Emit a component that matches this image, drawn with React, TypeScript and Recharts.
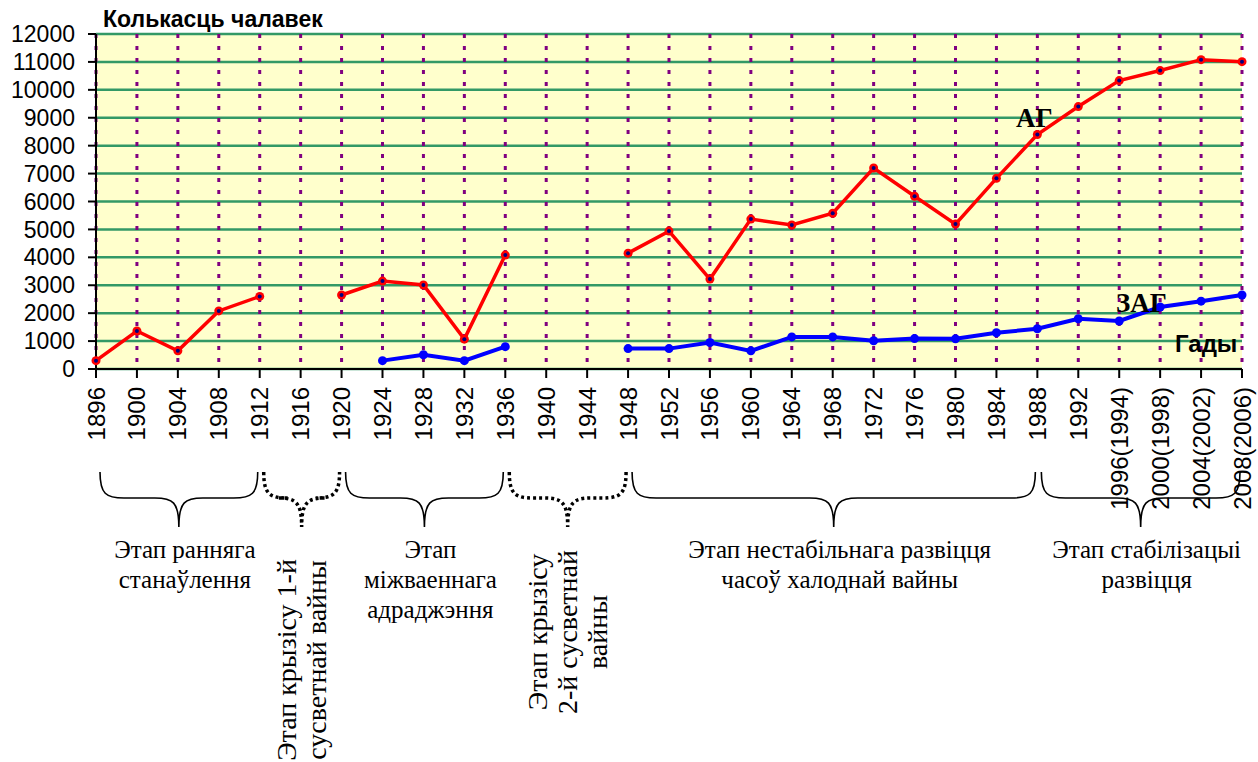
import React from 'react';
import { LineChart, Line, XAxis, YAxis, CartesianGrid } from 'recharts';

const YEARS = [
  '1896', '1900', '1904', '1908', '1912', '1916', '1920', '1924', '1928', '1932',
  '1936', '1940', '1944', '1948', '1952', '1956', '1960', '1964', '1968', '1972',
  '1976', '1980', '1984', '1988', '1992', '1996(1994)', '2000(1998)', '2004(2002)', '2008(2006)',
];

// Летнія гульні (АГ)
const AG = [
  300, 1360, 650, 2080, 2600, null, 2650, 3150, 3010, 1070,
  4080, null, null, 4150, 4940, 3220, 5370, 5160, 5580, 7200,
  6190, 5190, 6830, 8400, 9400, 10330, 10690, 11080, 11010,
];

// Зімовыя гульні (ЗАГ)
const ZAG = [
  null, null, null, null, null, null, null, 300, 510, 300,
  800, null, null, 730, 730, 950, 650, 1150, 1150, 1010,
  1090, 1080, 1300, 1440, 1800, 1720, 2220, 2430, 2650,
];

const Y_TICKS = [0, 1000, 2000, 3000, 4000, 5000, 6000, 7000, 8000, 9000, 10000, 11000, 12000];

const STAGE_FROM = [0, 4, 6, 10, 13, 23];
const STAGE_TO = [4, 6, 10, 13, 23, 28];
const STAGE_DOTTED = [false, true, false, true, false, false];
const STAGE_VERTICAL = [false, true, false, true, false, false];
const STAGE_LINES = [
  ['Этап ранняга', 'станаўлення'],
  ['Этап крызісу 1-й', 'сусветнай вайны'],
  ['Этап', 'міжваеннага', 'адраджэння'],
  ['Этап крызісу', '2-й сусветнай', 'вайны'],
  ['Этап нестабільнага развіцця', 'часоў халоднай вайны'],
  ['Этап стабілізацыі', 'развіцця'],
];

const W = 1258;
const H = 762;
const PLOT_LEFT = 96;
const PLOT_RIGHT = 1242;
const PLOT_TOP = 34;
const PLOT_BOTTOM = 369;

const data = YEARS.map((year, i) => ({ year, ag: AG[i], zag: ZAG[i] }));

const SANS = '"Liberation Sans", Arial, sans-serif';
const SERIF = '"Liberation Serif", "Times New Roman", serif';

// same point scale as the category axis
const xOf = (i: number) => PLOT_LEFT + (i * (PLOT_RIGHT - PLOT_LEFT)) / (YEARS.length - 1);

function XTick({ x, y, payload }: any) {
  return (
    <text
      x={x}
      y={y}
      transform={`rotate(-90 ${x} ${y})`}
      textAnchor="end"
      dominantBaseline="central"
      style={{ fontFamily: SANS, fontSize: 24 }}
      fill="#000"
    >
      {payload.value}
    </text>
  );
}

function RedDot({ cx, cy, value }: any) {
  if (value == null || cx == null) return null;
  return (
    <g>
      <circle cx={cx} cy={cy} r={4.5} fill="#ff0000" />
      <circle cx={cx} cy={cy} r={2} fill="#000080" />
    </g>
  );
}

function bracePath(x0: number, x1: number) {
  const top = 472;
  const mid = 498;
  const bot = 527;
  const xc = (x0 + x1) / 2;
  const r = 24;
  return [
    `M${x0},${top}`,
    `C${x0},${mid - 4} ${x0 + 6},${mid} ${x0 + r},${mid}`,
    `L${xc - r},${mid}`,
    `C${xc - 6},${mid} ${xc},${mid + 4} ${xc},${bot}`,
    `C${xc},${mid + 4} ${xc + 6},${mid} ${xc + r},${mid}`,
    `L${x1 - r},${mid}`,
    `C${x1 - 6},${mid} ${x1},${mid - 4} ${x1},${top}`,
  ].join(' ');
}

function Annotations() {
  const serif = { fontFamily: SERIF };
  const sans = { fontFamily: SANS };
  return (
    <svg
      width={W}
      height={H}
      style={{ position: 'absolute', left: 0, top: 0, pointerEvents: 'none' }}
    >
      <text x={103} y={27} style={{ ...sans, fontSize: 23, fontWeight: 'bold' }} fill="#000">
        Колькасць чалавек
      </text>
      <text x={1016} y={127} style={{ ...serif, fontSize: 27, fontWeight: 'bold' }} fill="#000">
        АГ
      </text>
      <text x={1116} y={312} style={{ ...serif, fontSize: 27, fontWeight: 'bold' }} fill="#000">
        ЗАГ
      </text>
      <text x={1175} y={352} style={{ ...sans, fontSize: 24, fontWeight: 'bold' }} fill="#000">
        Гады
      </text>

      {STAGE_FROM.map((from, k) => {
        const x0 = xOf(from) + 4;
        const x1 = xOf(STAGE_TO[k]) - 2;
        const xc = (x0 + x1) / 2;
        const lines = STAGE_LINES[k];
        return (
          <g key={k}>
            <path
              d={bracePath(x0, x1)}
              fill="none"
              stroke="#000"
              strokeWidth={STAGE_DOTTED[k] ? 3.5 : 1.6}
              strokeDasharray={STAGE_DOTTED[k] ? '3 3' : undefined}
            />
            {STAGE_VERTICAL[k] ? (
              <text
                transform={`translate(${xc},${k === 1 ? 660 : 632}) rotate(-90)`}
                textAnchor="middle"
                style={{ ...serif, fontSize: 28 }}
                fill="#000"
              >
                {lines.map((t, j) => (
                  <tspan key={j} x={0} y={(j - (lines.length - 1) / 2) * 30 + 9}>
                    {t}
                  </tspan>
                ))}
              </text>
            ) : (
              <text textAnchor="middle" style={{ ...serif, fontSize: 25 }} fill="#000">
                {lines.map((t, j) => (
                  <tspan key={j} x={xc + 6} y={558 + j * 30}>
                    {t}
                  </tspan>
                ))}
              </text>
            )}
          </g>
        );
      })}
    </svg>
  );
}

export default function App() {
  return (
    <div style={{ position: 'absolute', left: 0, top: 0, width: W, height: H, background: '#fff' }}>
      <LineChart
        width={W}
        height={H}
        data={data}
        margin={{ top: PLOT_TOP, right: W - PLOT_RIGHT, bottom: 0, left: 0 }}
      >
        <CartesianGrid
          vertical={false}
          fill="#ffffcc"
          stroke="#339966"
          strokeWidth={2.5}
          strokeOpacity={1}
        />
        <CartesianGrid
          horizontal={false}
          stroke="#800080"
          strokeWidth={3}
          strokeDasharray="4 8"
        />
        <XAxis
          dataKey="year"
          interval={0}
          height={H - PLOT_BOTTOM}
          tick={<XTick />}
          tickSize={9}
          tickMargin={9}
          axisLine={{ stroke: '#000', strokeWidth: 2 }}
          tickLine={{ stroke: '#000', strokeWidth: 2 }}
        />
        <YAxis
          width={PLOT_LEFT}
          domain={[0, 12000]}
          ticks={Y_TICKS}
          interval={0}
          tickSize={8}
          tickMargin={13}
          tick={{ fontSize: 23, fill: '#000', fontFamily: SANS }}
          axisLine={{ stroke: '#000', strokeWidth: 2 }}
          tickLine={{ stroke: '#000', strokeWidth: 2 }}
        />
        <Line
          type="linear"
          dataKey="zag"
          stroke="#0000ff"
          strokeWidth={4}
          dot={{ r: 4.5, fill: '#0000ff', stroke: 'none' }}
          activeDot={false}
          connectNulls={false}
          isAnimationActive={false}
        />
        <Line
          type="linear"
          dataKey="ag"
          stroke="#ff0000"
          strokeWidth={3.5}
          dot={<RedDot />}
          activeDot={false}
          connectNulls={false}
          isAnimationActive={false}
        />
      </LineChart>
      <Annotations />
    </div>
  );
}
